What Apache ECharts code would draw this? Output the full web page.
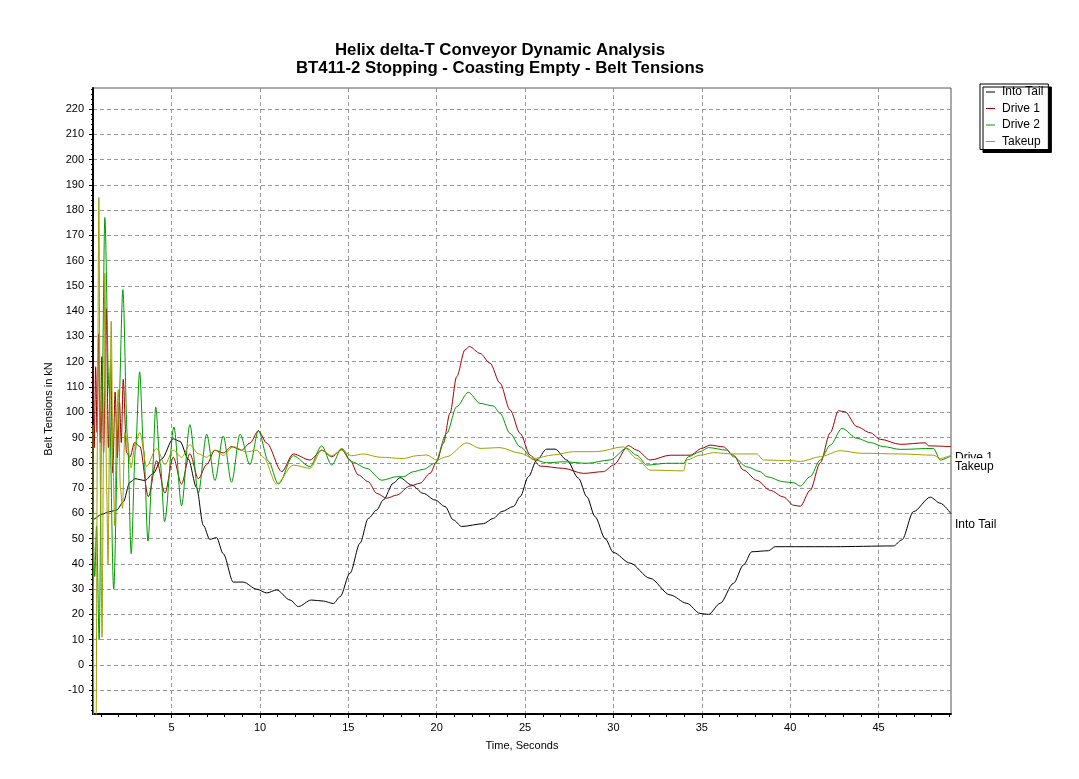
<!DOCTYPE html>
<html>
<head>
<meta charset="utf-8">
<script src="https://cdn.jsdelivr.net/npm/echarts@6/dist/echarts.min.js"></script>
<style>html,body{margin:0;padding:0;background:#fff}#c{width:1079px;height:779px}</style>
</head>
<body>
<div id="c"></div>
<script>
// ---- tick labels ----
const xTickValues = [5, 10, 15, 20, 25, 30, 35, 40, 45];
const xMinorTicks = [1,2,3,4,6,7,8,9,11,12,13,14,16,17,18,19,21,22,23,24,26,27,28,29,31,32,33,34,36,37,38,39,41,42,43,44,46,47,48,49];
const yTickValues = [-10,0,10,20,30,40,50,60,70,80,90,100,110,120,130,140,150,160,170,180,190,200,210,220];
const yMinorTicks = [-18,-16,-14,-12,-8,-6,-4,-2,2,4,6,8,12,14,16,18,22,24,26,28,32,34,36,38,42,44,46,48,52,54,56,58,62,64,66,68,72,74,76,78,82,84,86,88,92,94,96,98,102,104,106,108,112,114,116,118,122,124,126,128,132,134,136,138,142,144,146,148,152,154,156,158,162,164,166,168,172,174,176,178,182,184,186,188,192,194,196,198,202,204,206,208,212,214,216,218,222,224,226,228];

// ---- series: Into Tail ----
const tailTime = [0.55,0.66,1.0,1.51,1.89,2.26,2.64,2.92,3.49,3.96,4.43,5.09,5.47,5.94,6.41,6.79,7.16,7.54,7.92,8.49,9.05,9.81,10.38,10.94,11.7,12.17,12.9,13.58,14.15,14.53,15.09,15.66,16.13,16.6,16.98,17.54,17.92,18.58,19.24,19.9,20.47,20.94,21.41,22.64,23.2,23.68,24.34,24.72,25.19,25.66,26.22,26.7,27.36,28.02,28.49,28.96,29.53,30.0,30.94,32.07,33.21,34.15,34.9,35.38,36.04,36.79,37.36,37.83,38.77,39.15,40.3,42.45,45.85,46.32,46.98,47.93,48.49,49.1];
const tailValue = [57,58,59.5,60.7,61.3,64.5,72.3,73.7,73,75.8,81.5,89.5,88.5,81.5,70.2,55.3,49.7,50.4,44,32.8,32.8,30,28.5,29.7,25.7,23.1,25.7,25.3,24.3,27,36.3,48.2,58,61.3,65.3,71.9,74.1,71.2,67.9,65.3,62.7,57.4,54.8,55.9,58,60.7,62.7,66.6,74.5,81.1,85.4,85.4,81.1,73.9,66.6,58.7,50,44.5,40.3,34.3,27.7,24.4,20.4,20,24.4,32.3,39.6,44.8,45.2,46.8,46.8,46.8,47.1,49.5,60.7,66.4,64,59.8];

// ---- series: Drive 1 ----
const drive1Time = [0.55,0.62,0.7,0.78,0.87,0.96,1.05,1.15,1.3,1.42,1.55,1.67,1.8,1.93,2.05,2.15,2.26,2.45,2.64,2.9,3.2,3.68,4.15,4.62,5.09,5.56,6.03,6.51,6.98,7.45,7.92,8.39,8.96,9.43,9.91,10.38,11.23,11.88,12.83,13.49,14.06,14.62,15.09,15.56,16.13,16.6,17.17,17.73,18.49,19.05,19.62,20,20.37,20.75,21.13,21.6,21.85,22.45,23.02,23.58,24.15,24.72,25.29,25.85,27.17,28.3,29.43,30,30.85,31.32,32.07,33.21,34.34,35,35.47,36.22,36.79,37.36,38.11,38.87,39.62,40.19,40.57,41.13,41.7,42.27,42.73,43.1,43.78,44.53,45.1,46.23,47.64,47.83,49.1];
const drive1Value = [120,86,118,92,131,88,122,84,141,86,121,76,108,82,104,88,113,84,82.2,88,86.5,66.6,80.8,68,82.2,71.6,83.6,73.7,79.3,85,83.9,86.4,85,87.8,92.7,87.8,76.5,83.5,81.1,85,82.4,85.3,81.1,75.2,72.5,67.9,66,67.2,70.8,71.9,75.8,80.4,87.7,99.6,114.1,124.7,126,123.3,119.4,111.5,100.9,91.6,83,78.7,77.8,75.8,76.5,79.1,86.8,85,81.1,83,83,85.7,87,86.3,83,77.1,73.1,69.1,66.5,63.2,62.8,69.1,80,91.9,100.6,100.2,94.3,91.9,89.3,87.3,87.9,86.7,86.4];

// ---- series: Drive 2 ----
const drive2Time = [0.55,0.65,0.75,0.9,1.05,1.22,1.45,1.72,2.0,2.24,2.5,2.71,2.95,3.19,3.42,3.66,3.9,4.1,4.35,4.6,5.13,5.56,6.03,6.51,6.98,7.45,7.92,8.39,8.87,9.43,9.91,10.47,11.04,11.88,12.83,13.49,14.06,14.62,15.19,16.04,16.89,17.73,18.11,18.68,19.24,19.9,20.56,21.13,21.79,22.45,23.2,23.58,24.15,24.72,25.47,26.22,27.17,28.49,29.8,30.75,31.32,31.89,33.02,33.96,34.24,34.9,35.38,36.42,36.79,37.55,38.3,38.68,39.62,40.19,40.57,41.13,41.7,42.27,42.93,43.78,44.53,45.29,46.23,48.11,48.49,49.1];
const drive2Value = [60,35,55,10,100,177,110,30,100,148.5,90,44,85,116,85,49,75,102,80,56.7,94.2,63,95.1,68,91.3,73,90.6,72.3,91.3,79.3,92.7,80.7,71.6,82.8,78.5,86.7,79.1,85.7,80.4,77.8,73.1,74.5,74.5,76.5,77.4,79.8,91.6,102.2,107.9,103.5,102.5,99.6,91.6,86.3,81.3,80,80.4,79.8,81.1,85.7,83,79.1,79.8,79.8,82.4,84.4,86,85,82.4,78.4,76.5,74.5,72.5,72.1,70.8,74.5,81.1,87,93.6,89.7,88,86.4,85.3,85.7,81.1,82.7];

// ---- series: Takeup ----
const takeupTime = [0.55,0.6,0.72,0.8,0.88,0.97,1.06,1.15,1.22,1.32,1.4,1.5,1.58,1.68,1.78,1.88,1.98,2.1,2.22,2.35,2.5,2.7,2.95,3.2,3.58,4.15,4.62,5.09,5.56,6.03,6.51,6.98,7.45,7.92,8.49,9.24,9.81,10.19,10.94,11.88,12.83,13.49,14.06,14.62,15.19,15.85,16.79,18.11,18.87,19.43,20,20.56,21.7,22.45,23.58,24.72,25.47,26.6,27.73,29.05,30.56,31.32,32.07,33.96,34.15,34.9,35.66,36.79,38.11,38.49,40.19,40.57,41.7,42.83,43.97,46.23,48.11,48.49,49.1];
const takeupValue = [95,-30,-30,90,185,70,11,90,155,70,40,100,136,80,55,95,109,70,62,92,88,78,88,92,78.6,85.7,79.3,85,82.2,87.1,83.6,82.2,85,82.9,86.4,84.3,85,82.2,71.6,79.1,77.8,85,82.8,85,82.8,83.5,82.2,81.7,82.8,83.1,81.1,82.4,87.9,85.7,86,83.8,81.7,83.1,84.4,84.4,86.3,81.7,77.1,76.8,81.1,83,84,83.5,83.5,81.1,80.8,80.5,82.4,84.8,83.8,83.5,83,81.7,83];

const seriesNames = ['Into Tail', 'Drive 1', 'Drive 2', 'Takeup'];
const seriesColors = ['#000000', '#a00000', '#009a00', '#a0a000'];

function zip(t, v) { return t.map((x, i) => [x, v[i]]); }
const seriesData = [zip(tailTime, tailValue), zip(drive1Time, drive1Value), zip(drive2Time, drive2Value), zip(takeupTime, takeupValue)];

const FONT = 'Liberation Sans, Arial, sans-serif';
const X_MIN = 0.55, X_MAX = 49.1, Y_MIN = -19.4, Y_MAX = 228.3;

const chart = echarts.init(document.getElementById('c'), null, {renderer: 'canvas'});
chart.setOption({
  animation: false,
  backgroundColor: '#ffffff',
  title: {
    text: 'Helix delta-T Conveyor Dynamic Analysis\nBT411-2 Stopping - Coasting Empty - Belt Tensions',
    left: 500, top: 41, padding: 0, textAlign: 'center',
    textStyle: {fontFamily: FONT, fontSize: 16.8, fontWeight: 'bold', color: '#000', lineHeight: 18.5}
  },
  legend: {
    orient: 'vertical', left: 980, top: 84,
    data: seriesNames.map(n => ({name: n, icon: 'rect'})),
    itemWidth: 9, itemHeight: 1, itemGap: 2.5,
    padding: [1, 5, 1, 6],
    backgroundColor: '#fff', borderColor: '#000', borderWidth: 1,
    shadowColor: '#000', shadowOffsetX: 3, shadowOffsetY: 3, shadowBlur: 0,
    textStyle: {fontFamily: FONT, fontSize: 12, color: '#000', lineHeight: 14, padding: [0, 0, 0, 2]}
  },
  grid: {left: 93, right: 128, top: 88, bottom: 65, show: true, borderColor: '#555', borderWidth: 1, backgroundColor: '#fff'},
  xAxis: [{
    type: 'value', min: X_MIN, max: X_MAX, position: 'bottom',
    name: 'Time, Seconds', nameLocation: 'middle', nameGap: 26,
    nameTextStyle: {fontFamily: FONT, fontSize: 11, color: '#000'},
    axisLine: {show: true, onZero: false, lineStyle: {color: '#000', width: 2}},
    axisTick: {show: true, customValues: xTickValues, length: 4, lineStyle: {color: '#000'}},
    axisLabel: {customValues: xTickValues, fontFamily: FONT, fontSize: 11, color: '#000', margin: 8},
    splitLine: {show: true, lineStyle: {color: '#999', type: [4, 3], width: 1}}
  }, {
    type: 'value', min: X_MIN, max: X_MAX, position: 'bottom',
    axisLine: {show: false, onZero: false},
    axisTick: {show: true, customValues: xMinorTicks, length: 3, lineStyle: {color: '#000'}},
    axisLabel: {show: false},
    splitLine: {show: false}
  }],
  yAxis: [{
    type: 'value', min: Y_MIN, max: Y_MAX, position: 'left',
    name: 'Belt Tensions in kN', nameLocation: 'middle', nameGap: 35, nameRotate: 90,
    nameTextStyle: {fontFamily: FONT, fontSize: 11, color: '#000', padding: [0, 16, 0, 0]},
    axisLine: {show: true, onZero: false, lineStyle: {color: '#000', width: 2}},
    axisTick: {show: true, customValues: yTickValues, length: 4, lineStyle: {color: '#000'}},
    axisLabel: {customValues: yTickValues, fontFamily: FONT, fontSize: 11, color: '#000', margin: 9},
    splitLine: {show: true, lineStyle: {color: '#999', type: [4, 3], width: 1}}
  }, {
    type: 'value', min: Y_MIN, max: Y_MAX, position: 'left',
    axisLine: {show: false, onZero: false},
    axisTick: {show: true, customValues: yMinorTicks, length: 2, lineStyle: {color: '#000'}},
    axisLabel: {show: false},
    splitLine: {show: false}
  }],
  series: seriesNames.map((name, i) => ({
    name: name, type: 'line', xAxisIndex: 0, yAxisIndex: 0,
    data: seriesData[i], showSymbol: false, symbol: 'none',
    smooth: 0.3, smoothMonotone: 'x', clip: true,
    lineStyle: {color: seriesColors[i], width: 1},
    itemStyle: {color: seriesColors[i]},
    z: 2 + i,
    endLabel: {
      show: true, formatter: name, fontFamily: FONT, fontSize: 12, color: '#000',
      distance: 3, offset: [0, 11], backgroundColor: '#fff', padding: [3, 1, 1, 1]
    }
  }))
});
</script>
</body>
</html>
